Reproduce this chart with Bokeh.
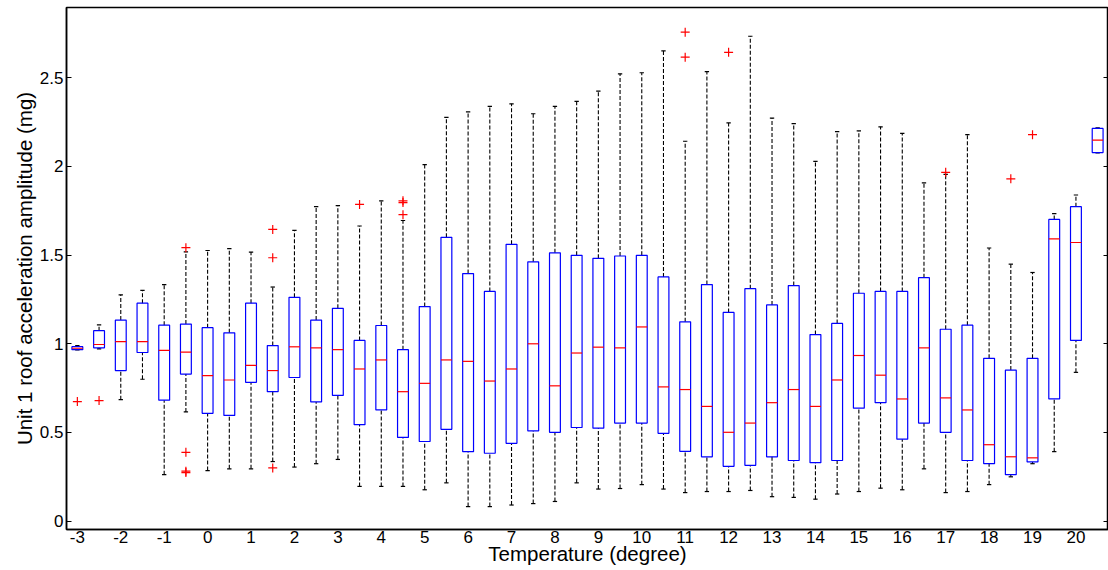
from bokeh.plotting import figure
from bokeh.models import Range1d, FixedTicker, LinearAxis, CustomJSTickFormatter, ColumnDataSource
from bokeh.embed import file_html
from bokeh.resources import INLINE

# ---- data ----
temperature = [-3, -2.5, -2, -1.5, -1, -0.5, 0, 0.5, 1, 1.5, 2, 2.5, 3, 3.5, 4, 4.5,
               5, 5.5, 6, 6.5, 7, 7.5, 8, 8.5, 9, 9.5, 10, 10.5, 11, 11.5, 12, 12.5,
               13, 13.5, 14, 14.5, 15, 15.5, 16, 16.5, 17, 17.5, 18, 18.5, 19, 19.5, 20, 20.5]
q1 = [0.967, 0.977, 0.849, 0.951, 0.682, 0.829, 0.608, 0.596, 0.783, 0.730, 0.810, 0.672,
      0.709, 0.544, 0.627, 0.472, 0.449, 0.518, 0.392, 0.383, 0.439, 0.509, 0.501, 0.528,
      0.524, 0.553, 0.553, 0.495, 0.394, 0.363, 0.309, 0.315, 0.363, 0.342, 0.330, 0.342,
      0.637, 0.668, 0.462, 0.553, 0.501, 0.342, 0.324, 0.262, 0.334, 0.689, 1.019, 2.078]
median = [0.975, 0.996, 1.012, 1.012, 0.963, 0.953, 0.821, 0.796, 0.878, 0.849, 0.983, 0.977,
          0.967, 0.858, 0.909, 0.730, 0.777, 0.909, 0.901, 0.790, 0.858, 1.000, 0.763, 0.948,
          0.981, 0.977, 1.095, 0.757, 0.742, 0.647, 0.501, 0.553, 0.668, 0.742, 0.647, 0.796,
          0.934, 0.823, 0.689, 0.977, 0.695, 0.627, 0.431, 0.363, 0.357, 1.592, 1.571, 2.148]
q3 = [0.984, 1.074, 1.134, 1.229, 1.105, 1.111, 1.091, 1.062, 1.229, 0.990, 1.262, 1.134,
      1.200, 1.019, 1.103, 0.967, 1.210, 1.600, 1.396, 1.295, 1.561, 1.462, 1.513, 1.499,
      1.482, 1.495, 1.499, 1.377, 1.124, 1.334, 1.177, 1.311, 1.219, 1.328, 1.052, 1.115,
      1.285, 1.295, 1.295, 1.373, 1.082, 1.105, 0.918, 0.852, 0.918, 1.701, 1.773, 2.214]
whisker_low = [0.965, 0.971, 0.685, 0.800, 0.262, 0.616, 0.285, 0.295, 0.295, 0.336, 0.305, 0.324,
               0.348, 0.196, 0.196, 0.196, 0.177, 0.216, 0.082, 0.082, 0.091, 0.099, 0.111, 0.216,
               0.181, 0.184, 0.206, 0.181, 0.161, 0.167, 0.167, 0.173, 0.138, 0.134, 0.124, 0.153,
               0.167, 0.186, 0.177, 0.295, 0.161, 0.167, 0.206, 0.250, 0.324, 0.392, 0.839, 2.076]
whisker_high = [0.990, 1.107, 1.276, 1.301, 1.334, 1.518, 1.526, 1.536, 1.517, 1.320, 1.639, 1.773,
                1.779, 1.664, 1.806, 1.695, 2.010, 2.276, 2.307, 2.338, 2.353, 2.297, 2.338, 2.367,
                2.425, 2.522, 2.528, 2.652, 2.142, 2.534, 2.245, 2.734, 2.272, 2.241, 2.029, 2.196,
                2.200, 2.223, 2.186, 1.907, 1.955, 2.179, 1.540, 1.449, 1.402, 1.734, 1.839, 2.217]
outlier_temperature = [-3, -2.5, -0.5, -0.5, -0.5, -0.5, 1.5, 1.5, 1.5, 3.5, 4.5, 4.5, 4.5,
                       11, 11, 12, 17, 18.5, 19]
outlier_value = [0.674, 0.680, 1.542, 0.388, 0.282, 0.274, 1.645, 1.485, 0.300, 1.786, 1.806,
                 1.796, 1.728, 2.757, 2.616, 2.643, 1.967, 1.930, 2.179]
x_tick_values = [-3, -2, -1, 0, 1, 2, 3, 4, 5, 6, 7, 8, 9, 10, 11, 12, 13, 14, 15, 16, 17, 18, 19, 20]
y_tick_values = [0, 0.5, 1, 1.5, 2, 2.5]

BOX_HALF = 0.125
CAP_HALF = 0.05
FONT = "Liberation Sans"

src = ColumnDataSource(dict(
    t=temperature, q1=q1, med=median, q3=q3, lo=whisker_low, hi=whisker_high,
    left=[t - BOX_HALF for t in temperature], right=[t + BOX_HALF for t in temperature],
    cl=[t - CAP_HALF for t in temperature], cr=[t + CAP_HALF for t in temperature],
))

p = figure(width=1108, height=570, output_backend="svg", toolbar_location=None,
           x_range=Range1d(-3.25, 20.75), y_range=Range1d(-0.047, 2.896),
           min_border_left=66, min_border_right=0, min_border_top=7, min_border_bottom=41)
p.grid.visible = False
p.outline_line_color = "black"
p.outline_line_width = 1.5
p.background_fill_color = "white"
p.border_fill_color = "white"

# whiskers
p.segment(x0="t", y0="q3", x1="t", y1="hi", source=src, line_color="black", line_width=1.1, line_dash="4 2")
p.segment(x0="t", y0="lo", x1="t", y1="q1", source=src, line_color="black", line_width=1.1, line_dash="4 2")
# caps
p.segment(x0="cl", y0="hi", x1="cr", y1="hi", source=src, line_color="black", line_width=1.2)
p.segment(x0="cl", y0="lo", x1="cr", y1="lo", source=src, line_color="black", line_width=1.2)
# boxes
p.quad(left="left", right="right", bottom="q1", top="q3", source=src,
       fill_color=None, line_color="#0000ff", line_width=1.2)
# medians
p.segment(x0="left", y0="med", x1="right", y1="med", source=src, line_color="#ff0000", line_width=1.2)
# outliers
p.scatter(outlier_temperature, outlier_value, marker="cross", size=9, line_color="#ff0000", line_width=1.2)

# axes
xa = p.xaxis[0]
xa.ticker = FixedTicker(ticks=x_tick_values)
xa.formatter = CustomJSTickFormatter(code="return tick.toString();")
xa.major_tick_in = 0
xa.major_tick_out = 0
xa.minor_tick_line_color = None
xa.axis_line_color = "black"
xa.axis_line_width = 1.5
xa.major_label_standoff = 1
xa.major_label_text_font = FONT
xa.major_label_text_font_size = "17px"
xa.major_label_text_color = "black"
xa.axis_label = "Temperature (degree)"
xa.axis_label_text_font = FONT
xa.axis_label_text_font_size = "20.5px"
xa.axis_label_text_font_style = "normal"
xa.axis_label_text_color = "black"
xa.axis_label_standoff = -4

ya = p.yaxis[0]
ya.ticker = FixedTicker(ticks=y_tick_values)
ya.formatter = CustomJSTickFormatter(code="return tick.toString();")
ya.major_tick_in = 5
ya.major_tick_out = 0
ya.minor_tick_line_color = None
ya.axis_line_color = "black"
ya.axis_line_width = 1.5
ya.major_label_standoff = 3
ya.major_label_text_font = FONT
ya.major_label_text_font_size = "17px"
ya.major_label_text_color = "black"
ya.axis_label = "Unit 1 roof acceleration amplitude (mg)"
ya.axis_label_text_font = FONT
ya.axis_label_text_font_size = "20.5px"
ya.axis_label_text_font_style = "normal"
ya.axis_label_text_color = "black"
ya.axis_label_standoff = 1

ra = LinearAxis(ticker=FixedTicker(ticks=y_tick_values),
                formatter=CustomJSTickFormatter(code="return '';"),
                major_tick_in=5, major_tick_out=0, minor_tick_line_color=None,
                major_label_standoff=0, major_label_text_font_size="1px",
                axis_line_color="black", axis_line_width=1.5)
p.add_layout(ra, "right")

open("out.html", "w").write(file_html(p, INLINE))
